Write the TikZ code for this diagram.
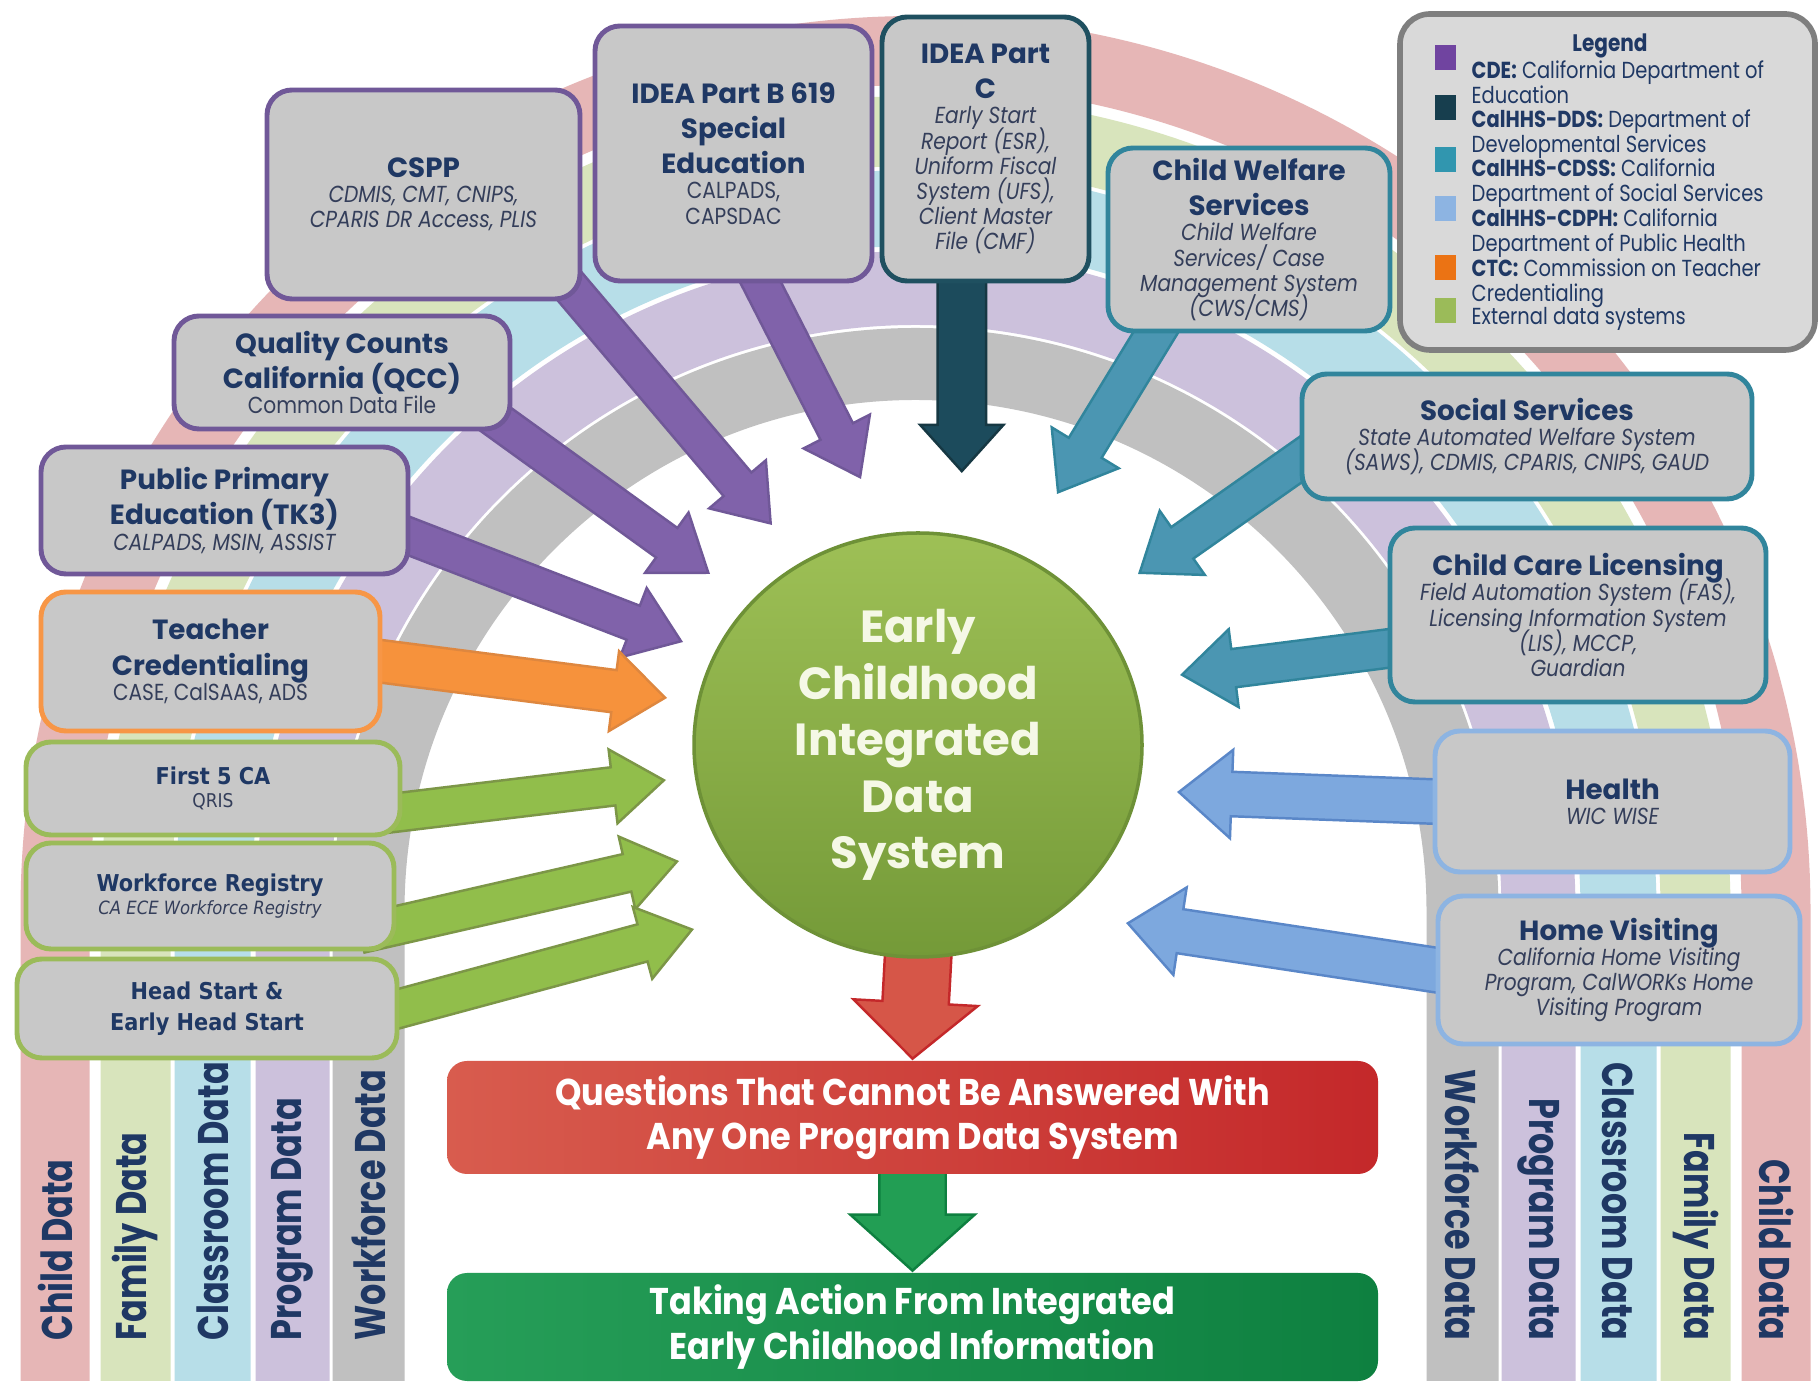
\documentclass[tikz,border=0pt]{standalone}
\usepackage{fontspec}
\setmainfont{Poppins}
\newfontfamily\narrowfont{Poppins}[FakeStretch=0.84]
\newfontfamily\subfamily{Poppins}[FakeStretch=0.87]
\newfontfamily\bandfont{Poppins}[FakeStretch=0.78]
\newfontfamily\outfont{Poppins}[FakeStretch=0.90]
\newfontfamily\tahomalike{DejaVu Sans Condensed}
\usetikzlibrary{shapes.geometric,shapes.arrows,calc}

\definecolor{navy}{RGB}{31,56,100}
\definecolor{subtxt}{RGB}{52,62,90}
\definecolor{boxgray}{RGB}{200,200,200}
\definecolor{legendgray}{RGB}{217,217,217}
\definecolor{legendedge}{RGB}{127,127,127}
\definecolor{cdeedge}{RGB}{112,88,152}
\definecolor{cdearrow}{RGB}{128,98,170}
\definecolor{cdeswatch}{RGB}{112,68,160}
\definecolor{ddsedge}{RGB}{31,80,96}
\definecolor{ddsarrow}{RGB}{28,75,92}
\definecolor{ddsswatch}{RGB}{23,62,78}
\definecolor{cdssedge}{RGB}{49,133,156}
\definecolor{cdssarrow}{RGB}{75,150,178}
\definecolor{cdssswatch}{RGB}{49,150,175}
\definecolor{cdphedge}{RGB}{141,180,226}
\definecolor{cdpharrow}{RGB}{125,168,222}
\definecolor{cdphline}{RGB}{90,135,200}
\definecolor{ctcedge}{RGB}{247,150,70}
\definecolor{ctcarrow}{RGB}{246,146,60}
\definecolor{ctcswatch}{RGB}{235,115,20}
\definecolor{extedge}{RGB}{155,187,89}
\definecolor{extarrow}{RGB}{145,190,75}
\definecolor{circtop}{RGB}{158,192,86}
\definecolor{circbot}{RGB}{116,154,56}
\definecolor{circedge}{RGB}{110,145,55}
\definecolor{qleft}{RGB}{216,92,78}
\definecolor{qright}{RGB}{196,40,42}
\definecolor{aleft}{RGB}{38,158,88}
\definecolor{aright}{RGB}{14,128,64}
\definecolor{redarrow}{RGB}{214,86,72}
\definecolor{greenarrow}{RGB}{34,158,84}
\definecolor{childband}{RGB}{230,182,182}
\definecolor{familyband}{RGB}{216,228,188}
\definecolor{classband}{RGB}{183,222,232}
\definecolor{progband}{RGB}{204,193,220}
\definecolor{workband}{RGB}{192,192,192}

\newcommand\titlefont{\fontsize{7.9}{10}\selectfont\bfseries\lineskiplimit=-5pt}
\newcommand\subfont{\subfamily\fontsize{6.6}{7.15}\selectfont\lineskiplimit=-5pt}
\newcommand\titletext[1]{{\titlefont#1\par}}
\newcommand\subit[1]{{\subfont\itshape\leavevmode\color{subtxt}#1\par}}
\newcommand\subup[1]{{\subfont\leavevmode\color{subtxt}#1\par}}
\newcommand\gtitle[1]{{\tahomalike\fontsize{6.6}{8.9}\selectfont\bfseries#1\par}}
\newcommand\gsub[1]{{\tahomalike\fontsize{5.4}{6.5}\selectfont\leavevmode\color{subtxt}#1\par}}
\newcommand\gsubit[1]{{\tahomalike\fontsize{5.2}{6.5}\selectfont\itshape\leavevmode\color{subtxt}#1\par}}

% block arrow from a node anchor to a named tip
\newcommand\flow[4]{%
  \path let \p1=#2, \p2=#3,
    \n1={atan2(\y2-\y1,\x2-\x1)},
    \n2={veclen(\x2-\x1,\y2-\y1)+10}
  in node[#1, rotate=\n1, minimum height={\n2*1pt}, anchor=tip] (#4) at (\p2) {};}

\pgfdeclarelayer{bands}
\pgfdeclarelayer{links}
\pgfsetlayers{bands,links,main}

\begin{document}
\begin{tikzpicture}[
    sys/.style={draw=#1, fill=boxgray, line width=1.4pt, rounded corners=0.25cm,
      align=flush center, text=navy, inner xsep=0.05cm, inner ysep=0pt},
    flow/.style={single arrow, inner xsep=0pt, line width=0.7pt},
    cdeflow/.style={flow, fill=cdearrow, draw=cdeedge, inner ysep=0.17cm,
      single arrow head extend=0.19cm, single arrow tip angle=72},
    ddsflow/.style={flow, fill=ddsarrow, draw=ddsedge!70!black, inner ysep=0.23cm,
      single arrow head extend=0.175cm, single arrow tip angle=84},
    cdssflow/.style={flow, fill=cdssarrow, draw=cdssedge, inner ysep=0.18cm,
      single arrow head extend=0.2cm, single arrow tip angle=74},
    cdphflow/.style={flow, fill=cdpharrow, draw=cdphline, inner ysep=0.21cm,
      single arrow head extend=0.22cm, single arrow tip angle=80},
    ctcflow/.style={flow, fill=ctcarrow, draw=ctcedge!90!black, inner ysep=0.2cm,
      single arrow head extend=0.19cm, single arrow tip angle=76},
    extflow/.style={flow, fill=extarrow, draw=extedge!80!black, inner ysep=0.18cm,
      single arrow head extend=0.18cm, single arrow tip angle=72},
    outflow/.style={flow, inner ysep=0.32cm, single arrow head extend=0.29cm,
      single arrow tip angle=96},
    outcome/.style={rounded corners=0.2cm, minimum width=9.31cm, align=center,
      text=white, font=\outfont\fontsize{10.6}{12.6}\selectfont\bfseries},
    bandlabel/.style={inner sep=0pt, text=navy,
      font=\bandfont\fontsize{12.2}{14}\selectfont\bfseries},
    keytext/.style={inner sep=0pt, align=left, text=navy, anchor=north west,
      font=\narrowfont\fontsize{6.6}{7.05}\selectfont},
    swatch/.style={minimum width=0.21cm, minimum height=0.25cm, inner sep=0pt}
  ]
  \useasboundingbox (0,0) rectangle (18.19,13.83);

  % rainbow of data types
  \begin{pgfonlayer}{bands}
    \fill[white] (0,0) rectangle (18.19,13.83);
    \foreach \rin/\rout/\tint in {8.26/8.95/childband, 7.45/8.15/familyband,
        6.65/7.41/classband, 5.86/6.60/progband, 5.11/5.83/workband}
      \fill[\tint] ({9.155-\rout},0.02) -- ({9.155-\rout},4.72)
        arc[start angle=180, end angle=0, radius=\rout] -- ({9.155+\rout},0.02)
        -- ({9.155+\rin},0.02) -- ({9.155+\rin},4.72)
        arc[start angle=0, end angle=180, radius=\rin] -- ({9.155-\rin},0.02) -- cycle;
    \foreach \r/\lab [count=\i] in {8.605/Child Data, 7.80/Family Data,
        7.03/Classroom Data, 6.23/Program Data, 5.47/Workforce Data} {
      \node[bandlabel, rotate=90, anchor=west] (bandL\i) at ({9.155-\r},0.42) {\lab};
      \node[bandlabel, rotate=-90, anchor=east] (bandR\i) at ({9.155+\r},0.42) {\lab};
    }
  \end{pgfonlayer}

  % hub
  \node[ellipse, minimum width=4.48cm, minimum height=4.24cm, top color=circtop,
    bottom color=circbot, draw=circedge, line width=1pt, align=center,
    text={rgb,255:red,245;green,248;blue,230},
    font=\fontsize{12.8}{16.1}\selectfont\bfseries] (ecids) at (9.18,6.38)
    {Early\\Childhood\\Integrated\\Data\\System};

  % CDE
  \node[sys=cdeedge, text width=2.67cm, minimum height=2.55cm] (ideab) at (7.335,12.295)
    {\titletext{IDEA Part B 619\\Special\\Education}\subup{CALPADS,\\CAPSDAC}};
  \node[sys=cdeedge, text width=3.03cm, minimum height=2.09cm] (cspp) at (4.235,11.885)
    {\titletext{CSPP}\subit{CDMIS, CMT, CNIPS,\\CPARIS DR Access, PLIS}};
  \node[sys=cdeedge, text width=3.26cm, minimum height=1.13cm] (qcc) at (3.42,10.105)
    {\titletext{Quality Counts\\California (QCC)}\subup{Common Data File}};
  \node[sys=cdeedge, text width=3.57cm, minimum height=1.27cm] (ppe) at (2.245,8.725)
    {\titletext{Public Primary\\Education (TK3)}\subit{CALPADS, MSIN, ASSIST}};

  % CTC and external systems
  \node[sys=ctcedge, text width=3.29cm, minimum height=1.39cm] (tcred) at (2.105,7.215)
    {\titletext{Teacher\\Credentialing}\subup{CASE, CalSAAS, ADS}};
  \node[sys=extedge, text width=3.64cm, minimum height=0.93cm] (first5) at (2.13,5.945)
    {\gtitle{First 5 CA}\gsub{QRIS}};
  \node[sys=extedge, text width=3.58cm, minimum height=1.06cm] (wfreg) at (2.10,4.87)
    {\gtitle{Workforce Registry}\gsubit{CA ECE Workforce Registry}};
  \node[sys=extedge, text width=3.70cm, minimum height=0.99cm] (hstart) at (2.07,3.745)
    {\gtitle{Head Start \&\\Early Head Start}};

  % CalHHS
  \node[sys=ddsedge, text width=1.97cm, minimum height=2.64cm] (ideac) at (9.855,12.34)
    {\titletext{IDEA Part\\C}\subit{Early Start\\Report (ESR),\\Uniform Fiscal\\System (UFS),\\Client Master\\File (CMF)}};
  \node[sys=cdssedge, text width=2.72cm, minimum height=1.83cm] (cws) at (12.49,11.435)
    {\titletext{Child Welfare\\Services}\subit{Child Welfare\\Services/ Case\\Management System\\(CWS/CMS)}};
  \node[sys=cdssedge, text width=4.40cm, minimum height=1.25cm] (social) at (15.27,9.465)
    {\titletext{Social Services}\subit{State Automated Welfare System\\(SAWS), CDMIS, CPARIS, CNIPS, GAUD}};
  \node[sys=cdssedge, text width=3.66cm, minimum height=1.74cm] (ccl) at (15.78,7.68)
    {\titletext{Child Care Licensing}\subit{Field Automation System (FAS),\\Licensing Information System\\(LIS), MCCP,\\Guardian}};
  \node[sys=cdphedge, text width=3.45cm, minimum height=1.41cm] (health) at (16.125,5.815)
    {\titletext{Health}\subit{WIC WISE}};
  \node[sys=cdphedge, text width=3.52cm, minimum height=1.48cm] (homev) at (16.19,4.13)
    {\titletext{Home Visiting}\subit{California Home Visiting\\Program, CalWORKs Home\\Visiting Program}};

  % outcomes
  \node[outcome, minimum height=1.13cm, left color=qleft, right color=qright] (questions)
    at (9.125,2.655) {Questions That Cannot Be Answered With\\Any One Program Data System};
  \node[outcome, minimum height=1.08cm, left color=aleft, right color=aright] (action)
    at (9.125,0.56) {Taking Action From Integrated\\Early Childhood Information};

  % legend
  \node[draw=legendedge, fill=legendgray, line width=1.6pt, rounded corners=0.3cm,
    minimum width=4.15cm, minimum height=3.36cm] (legend) at (16.075,12.01) {};
  \node[keytext, anchor=north, font=\narrowfont\fontsize{6.8}{7.05}\selectfont\bfseries]
    (legendtitle) at (16.10,13.50) {Legend};
  \node[swatch, fill=cdeswatch] (keycde) at (14.455,13.25) {};
  \node[keytext] (txtcde) at (14.71,13.23) {\textbf{CDE:} California Department of\\Education};
  \node[swatch, fill=ddsswatch] (keydds) at (14.455,12.75) {};
  \node[keytext] (txtdds) at (14.71,12.735) {\textbf{CalHHS-DDS:} Department of\\Developmental Services};
  \node[swatch, fill=cdssswatch] (keycdss) at (14.455,12.23) {};
  \node[keytext] (txtcdss) at (14.71,12.25) {\textbf{CalHHS-CDSS:} California\\Department of Social Services};
  \node[swatch, fill=cdphedge] (keycdph) at (14.455,11.74) {};
  \node[keytext] (txtcdph) at (14.71,11.75) {\textbf{CalHHS-CDPH:} California\\Department of Public Health};
  \node[swatch, fill=ctcswatch] (keyctc) at (14.455,11.15) {};
  \node[keytext] (txtctc) at (14.71,11.25) {\textbf{CTC:} Commission on Teacher\\Credentialing};
  \node[swatch, fill=extedge] (keyext) at (14.455,10.72) {};
  \node[keytext] (txtext) at (14.71,10.76) {External data systems};

  % arrow tips
  \coordinate (ppeTip) at (6.83,7.41);
  \coordinate (qccTip) at (7.10,8.09);
  \coordinate (csppTip) at (7.72,8.58);
  \coordinate (ideabTip) at (8.61,9.04);
  \coordinate (ideacTip) at (ideac.-100 |- 0,9.10);
  \coordinate (cwsTip) at (10.57,8.89);
  \coordinate (socialTip) at (11.38,8.09);
  \coordinate (cclTip) at (11.80,7.08);
  \coordinate (healthTip) at (11.77,5.91);
  \coordinate (homevTip) at (11.26,4.60);
  \coordinate (tcredTip) at (6.67,6.85);
  \coordinate (first5Tip) at (6.66,6.03);
  \coordinate (wfregTip) at (6.79,5.22);
  \coordinate (hstartTip) at (6.94,4.54);

  \begin{pgfonlayer}{links}
    \flow{cdeflow}{(ppe.-8)}{(ppeTip)}{ppeLink}
    \flow{cdeflow}{(qcc.south east)}{(qccTip)}{qccLink}
    \flow{cdeflow}{(cspp.south east)}{(csppTip)}{csppLink}
    \flow{cdeflow}{(ideab.-78)}{(ideabTip)}{ideabLink}
    \flow{ddsflow}{(ideac.-100)}{(ideacTip)}{ideacLink}
    \flow{cdssflow}{(cws.-135)}{(cwsTip)}{cwsLink}
    \flow{cdssflow}{(social.186)}{(socialTip)}{socialLink}
    \flow{cdssflow}{(ccl.190)}{(cclTip)}{cclLink}
    \flow{cdphflow}{(health.west)}{(healthTip)}{healthLink}
    \flow{cdphflow}{(homev.west)}{(homevTip)}{homevLink}
    \flow{ctcflow}{(tcred.east)}{(tcredTip)}{tcredLink}
    \flow{extflow}{(first5.-7)}{(first5Tip)}{first5Link}
    \flow{extflow}{(wfreg.-9)}{(wfregTip)}{wfregLink}
    \flow{extflow}{(hstart.east)}{(hstartTip)}{hstartLink}
    \flow{outflow, fill=redarrow, draw=qright}{(ecids.south)}{(questions.north)}{askLink}
    \flow{outflow, fill=greenarrow, draw=aright}{(questions.south)}{(action.north)}{actLink}
  \end{pgfonlayer}
\end{tikzpicture}
\end{document}
